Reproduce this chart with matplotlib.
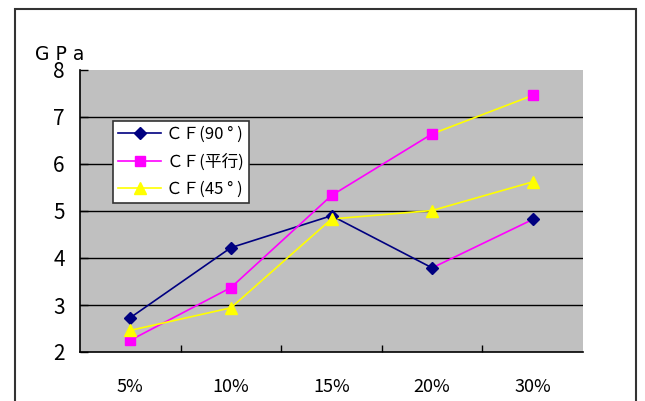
import numpy as np
import matplotlib.pyplot as plt
from matplotlib.patches import Rectangle

plt.rcParams['font.family'] = ['Noto Sans CJK JP', 'DejaVu Sans']

# data
categories = ['5%', '10%', '15%', '20%', '30%']
cf_90 = [2.73, 4.22, 4.90, 3.79, 4.82]
cf_par = [2.25, 3.37, 5.33, 6.64, 7.46]
cf_45 = [2.46, 2.94, 4.83, 5.01, 5.62]
labels = ['ＣＦ(90 ° )', 'ＣＦ(平行)', 'ＣＦ(45 ° )']

series = [cf_90, cf_par, cf_45]
colors = ['#000080', '#FF00FF', '#FFFF00']
markers = ['D', 's', '^']
msizes = [6.5, 7, 8]
# the last segment of each line is drawn in another colour in the original
last_colors = ['#FF00FF', '#FFFF00', '#FFFF00']

fig = plt.figure(figsize=(6.45, 4.01), dpi=100)
ax = fig.add_axes([80/645, 1 - 352/401, 503/645, 282/401])
ax.set_facecolor('#C0C0C0')

x = np.arange(len(categories))
for vals, c, m, ms, lc, lab in zip(series, colors, markers, msizes, last_colors, labels):
    ax.plot(x[:-1], vals[:-1], color=c, lw=1.2, zorder=3)
    ax.plot(x[-2:], vals[-2:], color=lc, lw=1.2, zorder=3)
    ax.plot(x, vals, ls='none', marker=m, ms=ms, color=c, mec=c, zorder=4)
    # legend handle
    ax.plot([], [], color=c, lw=1.2, marker=m, ms=ms, mec=c, label=lab)

ax.set_xlim(-0.5, 4.5)
ax.set_ylim(2, 8)
ax.set_yticks(range(2, 9))
for yv in range(3, 8):
    ax.axhline(yv, color='black', lw=1, zorder=1)

ax.set_xticks(x)
ax.set_xticklabels(categories)
ax.set_xticks(np.arange(0.5, 4, 1), minor=True)
ax.tick_params(axis='x', which='major', length=0, pad=18.5, labelsize=13)
ax.tick_params(axis='x', which='minor', direction='in', length=5, width=1)
ax.tick_params(axis='y', direction='in', length=6, width=1, pad=11, labelsize=15)

for s in ['top', 'right']:
    ax.spines[s].set_visible(False)
ax.spines['left'].set_linewidth(1.2)
ax.spines['bottom'].set_linewidth(1.2)

fig.text(35/645, 1 - 54/401, 'G P a', fontsize=13.5, va='center', ha='left',
         family=['DejaVu Sans'])

leg = ax.legend(loc='upper left', bbox_to_anchor=(33/503, 1 - 51/282), fontsize=12,
                frameon=True, fancybox=False, framealpha=1, edgecolor='#333333',
                handlelength=2.6, handletextpad=0.3, labelspacing=0.62,
                borderpad=0.3, borderaxespad=0)
leg.get_frame().set_linewidth(1.2)

# outer chart border, bottom edge lies outside the image
fig.patches.append(Rectangle((15/645, -0.1), 621/645, 1.1 - 9/401, transform=fig.transFigure,
                             fill=False, edgecolor='#333333', lw=1.5))

fig.savefig('out.png', dpi=100)
